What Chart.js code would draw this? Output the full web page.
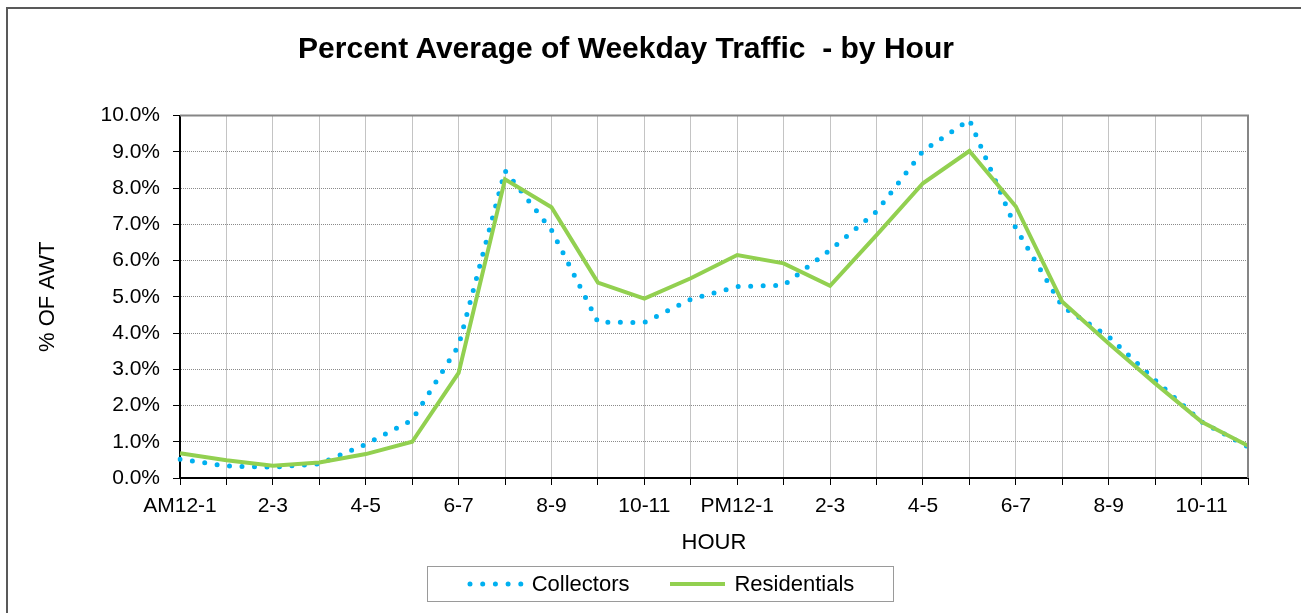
<!DOCTYPE html>
<html>
<head>
<meta charset="utf-8">
<script src="https://cdn.jsdelivr.net/npm/chart.js"></script>
<style>
  html, body { margin: 0; padding: 0; background: #fff; overflow: hidden; }
  #wrap { position: relative; width: 1301px; height: 613px; font-family: 'Liberation Sans', Arial, sans-serif; }
  #frame { position: absolute; left: 6px; top: 7px; width: 1400px; height: 700px; border-left: 2px solid #595959; border-top: 2px solid #595959; }
  #title { position: absolute; left: 0; width: 1252px; top: 31px; text-align: center; font-weight: bold; font-size: 30px; color: #000; white-space: pre; }
  #legend { position: absolute; left: 427px; top: 566px; width: 465px; height: 34px; border: 1px solid #9a9a9a; display: flex; align-items: center; justify-content: center; font-size: 22px; color: #000; box-sizing: content-box; }
  #legend .item { display: flex; align-items: center; }
  #legend .item + .item { margin-left: 40px; }
  #legend svg { margin-right: 8px; }
  canvas { position: absolute; left: 0; top: 0; }
</style>
</head>
<body>
<div id="wrap">
  <div id="frame"></div>
  <canvas id="chart" width="1301" height="613"></canvas>
  <div id="title">Percent Average of Weekday Traffic  - by Hour</div>
  <div id="legend"></div>
</div>
<script>
// hour buckets, shown every other one on the axis
const hourLabels = ['AM12-1', '1-2', '2-3', '3-4', '4-5', '5-6', '6-7', '7-8', '8-9', '9-10', '10-11', '11-12',
  'PM12-1', '1-2', '2-3', '3-4', '4-5', '5-6', '6-7', '7-8', '8-9', '9-10', '10-11', '11-12'];

// % of average weekday traffic
const collectors = [0.52, 0.33, 0.30, 0.39, 0.93, 1.60, 3.65, 8.48, 6.84, 4.30, 4.29, 4.93,
  5.28, 5.32, 6.29, 7.35, 9.02, 9.88, 6.89, 4.73, 3.90, 2.70, 1.55, 0.86];
const residentials = [0.68, 0.49, 0.34, 0.43, 0.66, 1.00, 2.90, 8.24, 7.47, 5.39, 4.95, 5.51,
  6.15, 5.92, 5.30, 6.70, 8.13, 9.02, 7.49, 4.86, 3.71, 2.61, 1.55, 0.89];

const blue = '#00B0F0';
const green = '#92D050';
const font = "'Liberation Sans', Arial, sans-serif";

// top and right edges of the plot area are gray in the original
const plotBorder = {
  id: 'plotBorder',
  afterDraw(chart) {
    const { ctx, chartArea: a } = chart;
    ctx.save();
    ctx.strokeStyle = '#868686';
    ctx.lineWidth = 2;
    ctx.beginPath();
    ctx.moveTo(a.left, a.top);
    ctx.lineTo(a.right, a.top);
    ctx.lineTo(a.right, a.bottom);
    ctx.stroke();
    ctx.restore();
  }
};

const ctx = document.getElementById('chart').getContext('2d');
const chart = new Chart(ctx, {
  type: 'line',
  data: {
    labels: hourLabels,
    datasets: [
      {
        label: 'Collectors',
        data: collectors,
        borderColor: blue,
        backgroundColor: blue,
        borderWidth: 5,
        borderDash: [0, 12.5],
        borderCapStyle: 'round',
        pointRadius: 0,
        tension: 0,
        order: 1
      },
      {
        label: 'Residentials',
        data: residentials,
        borderColor: green,
        backgroundColor: green,
        borderWidth: 4,
        pointRadius: 0,
        tension: 0,
        order: 0
      }
    ]
  },
  options: {
    responsive: false,
    animation: false,
    devicePixelRatio: 1,
    layout: { padding: { left: 0, right: 53, top: 115.5, bottom: 54 } },
    plugins: {
      legend: { display: false },
      title: { display: false },
      tooltip: { enabled: false }
    },
    scales: {
      x: {
        grid: { color: '#8a8a8a', tickColor: '#000', tickLength: 7, lineWidth: 1 },
        border: { color: '#000', width: 2, dash: [1, 1] },
        ticks: {
          autoSkip: false,
          maxRotation: 0,
          padding: 9,
          color: '#000',
          font: { family: font, size: 21 },
          callback: (v, i) => (i % 2 === 0 ? hourLabels[i] : '')
        },
        title: { display: true, text: 'HOUR', color: '#000', font: { family: font, size: 22 }, padding: { top: 4, bottom: 3 } },
        afterFit: (s) => { s.height = 81; }
      },
      y: {
        min: 0,
        max: 10,
        grid: { color: '#8a8a8a', tickColor: '#000', tickLength: 7, lineWidth: 1 },
        border: { color: '#000', width: 2, dash: [1, 1] },
        ticks: {
          stepSize: 1,
          padding: 13,
          color: '#000',
          font: { family: font, size: 21 },
          callback: (v) => v.toFixed(1) + '%'
        },
        title: { display: true, text: '% OF AWT', color: '#000', font: { family: font, size: 22 }, padding: { top: 35, bottom: 0 } },
        afterFit: (s) => { s.width = 180; }
      }
    }
  },
  plugins: [plotBorder]
});

// legend box built from the datasets
const legend = document.getElementById('legend');
chart.data.datasets.forEach((ds) => {
  const item = document.createElement('div');
  item.className = 'item';
  const dotted = !!ds.borderDash;
  const line = dotted
    ? `<line x1="3" y1="6" x2="54" y2="6" stroke="${ds.borderColor}" stroke-width="5" stroke-linecap="round" stroke-dasharray="0 12.7"/>`
    : `<line x1="1" y1="6" x2="56" y2="6" stroke="${ds.borderColor}" stroke-width="4"/>`;
  item.innerHTML = `<svg width="57" height="12">${line}</svg><span>${ds.label}</span>`;
  legend.appendChild(item);
});
</script>
</body>
</html>
